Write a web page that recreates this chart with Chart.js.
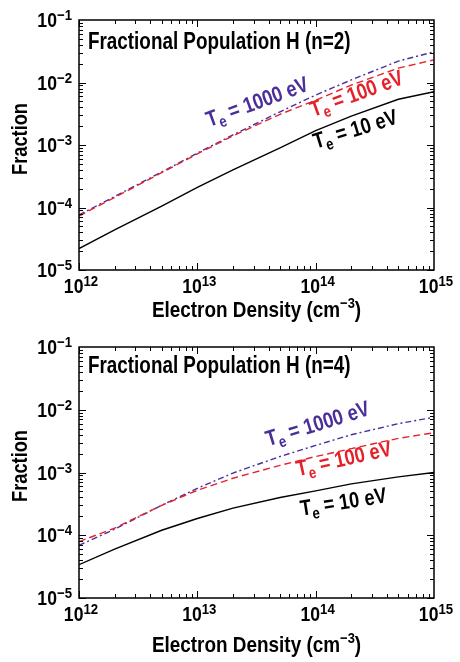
<!DOCTYPE html>
<html>
<head>
<meta charset="utf-8">
<script src="https://cdn.jsdelivr.net/npm/chart.js@4/dist/chart.umd.min.js"></script>
<style>
  html, body { margin: 0; padding: 0; background: #fff; }
  .panel { position: relative; width: 460px; height: 331px; }
  canvas { display: block; }
</style>
</head>
<body>
<div class="panel"><canvas id="popN2" width="460" height="331"></canvas></div>
<div class="panel"><canvas id="popN4" width="460" height="331"></canvas></div>
<script>
// electron density (cm^-3)
const density = [1e12, 2e12, 5e12, 1e13, 2e13, 5e13, 1e14, 2e14, 5e14, 1e15];

// fractional population, n=2
const n2Te10   = [2.2e-5, 4.4e-5, 1.05e-4, 2.1e-4, 4.0e-4, 9.0e-4, 1.7e-3, 2.9e-3, 5.4e-3, 7.1e-3];
const n2Te100  = [7.3e-5, 1.45e-4, 3.6e-4, 7.2e-4, 1.4e-3, 3.1e-3, 5.2e-3, 9.1e-3, 1.7e-2, 2.3e-2];
const n2Te1000 = [7.6e-5, 1.5e-4, 3.7e-4, 7.4e-4, 1.45e-3, 3.4e-3, 6.3e-3, 1.1e-2, 2.2e-2, 3.1e-2];

// fractional population, n=4
const n4Te10   = [3.4e-5, 6.0e-5, 1.2e-4, 1.85e-4, 2.7e-4, 4.0e-4, 5.1e-4, 6.6e-4, 8.5e-4, 1.0e-3];
const n4Te100  = [7.9e-5, 1.3e-4, 3.0e-4, 5.2e-4, 8.1e-4, 1.3e-3, 1.8e-3, 2.4e-3, 3.5e-3, 4.3e-3];
const n4Te1000 = [6.9e-5, 1.25e-4, 3.0e-4, 5.6e-4, 9.8e-4, 1.8e-3, 2.7e-3, 4.0e-3, 6.0e-3, 7.6e-3];

// tick labels (powers of ten)
const xTickExps = [12, 13, 14, 15];
const yTickExps = [-5, -4, -3, -2, -1];

const FONT = '"Liberation Sans", Arial, sans-serif';
const SX = 0.84;  // squeeze text horizontally, the original uses a narrow face
const BLACK = '#000000';
const RED = '#e5222b';
const PURPLE = '#4a2f9b';

function richWidth(ctx, parts, size) {
  let w = 0;
  for (const p of parts) {
    ctx.font = `bold ${p.size || size}px ${FONT}`;
    w += ctx.measureText(p.t).width;
  }
  return w;
}

// draw text made of runs (for super/subscripts), optionally rotated
function drawRich(ctx, parts, x, y, o) {
  ctx.save();
  ctx.translate(x, y);
  ctx.rotate((o.angle || 0) * Math.PI / 180);
  ctx.scale(o.sx || SX, 1);
  ctx.fillStyle = o.color || BLACK;
  ctx.textBaseline = 'alphabetic';
  ctx.textAlign = 'left';
  const w = richWidth(ctx, parts, o.size);
  let cx = o.align === 'center' ? -w / 2 : o.align === 'right' ? -w : 0;
  for (const p of parts) {
    ctx.font = `bold ${p.size || o.size}px ${FONT}`;
    ctx.fillText(p.t, cx, p.dy || 0);
    cx += ctx.measureText(p.t).width;
  }
  ctx.restore();
}

const pow10 = e => [{ t: '10' }, { t: (e < 0 ? '\u2212' + (-e) : String(e)), size: 15, dy: -7 }];
const teLabel = v => [{ t: 'T' }, { t: 'e', size: 16, dy: 5 }, { t: ' = ' + v + ' eV' }];

// frame, inward ticks, tick labels, titles and curve labels
const decor = {
  id: 'decor',
  afterDraw(chart, args, opts) {
    const { ctx, chartArea: a, scales: { x, y } } = chart;
    ctx.save();
    ctx.strokeStyle = BLACK;
    ctx.lineWidth = 1.5;
    ctx.strokeRect(a.left, a.top, a.right - a.left, a.bottom - a.top);

    ctx.lineWidth = 1;
    ctx.beginPath();
    for (let e = xTickExps[0]; e < xTickExps[xTickExps.length - 1]; e++) {
      for (let m = 1; m < 10; m++) {
        const px = Math.round(x.getPixelForValue(m * Math.pow(10, e))) + 0.5;
        const len = m === 1 ? 7 : 4;
        ctx.moveTo(px, a.bottom); ctx.lineTo(px, a.bottom - len);
        ctx.moveTo(px, a.top); ctx.lineTo(px, a.top + len);
      }
    }
    for (let e = yTickExps[0]; e < yTickExps[yTickExps.length - 1]; e++) {
      for (let m = 1; m < 10; m++) {
        const py = Math.round(y.getPixelForValue(m * Math.pow(10, e))) + 0.5;
        const len = m === 1 ? 7 : 4;
        ctx.moveTo(a.left, py); ctx.lineTo(a.left + len, py);
        ctx.moveTo(a.right, py); ctx.lineTo(a.right - len, py);
      }
    }
    ctx.stroke();
    ctx.restore();

    for (const e of xTickExps) {
      drawRich(ctx, pow10(e), x.getPixelForValue(Math.pow(10, e)) + 2, a.bottom + 23, { size: 20, sx: 0.88, align: 'center' });
    }
    for (const e of yTickExps) {
      drawRich(ctx, pow10(e), a.left - 7, y.getPixelForValue(Math.pow(10, e)) + 7, { size: 20, sx: 0.88, align: 'right' });
    }

    drawRich(ctx, [{ t: 'Electron Density (cm' }, { t: '\u22123', size: 15, dy: -9 }, { t: ')' }],
      (a.left + a.right) / 2, opts.xTitleY, { size: 22, sx: 0.86, align: 'center' });
    drawRich(ctx, [{ t: 'Fraction' }], 27, opts.yTitleY, { size: 22, sx: 0.83, align: 'center', angle: -90 });

    drawRich(ctx, [{ t: opts.title }], a.left + 9, a.top + opts.titleDy, { size: 23, sx: 0.82 });

    for (const lb of opts.labels) {
      drawRich(ctx, teLabel(lb.text), x.getPixelForValue(lb.at[0]), y.getPixelForValue(lb.at[1]),
        { size: 22, sx: 0.83, color: lb.color, angle: lb.angle });
    }
  }
};

function series(values, color, dash) {
  return {
    data: density.map((d, i) => ({ x: d, y: values[i] })),
    borderColor: color,
    borderWidth: 1.4,
    borderDash: dash,
    pointRadius: 0,
    tension: 0,
    fill: false
  };
}

function makeChart(id, sets, pad, xAxisH, decorOpts) {
  return new Chart(document.getElementById(id), {
    type: 'line',
    data: { datasets: sets },
    options: {
      responsive: false,
      animation: false,
      layout: { padding: { left: 0, right: 26, top: pad, bottom: 0 } },
      plugins: { legend: { display: false }, tooltip: { enabled: false }, decor: decorOpts },
      scales: {
        x: {
          type: 'logarithmic', min: 1e12, max: 1e15,
          ticks: { display: false }, grid: { display: false }, border: { display: false },
          afterFit: s => { s.height = xAxisH; }
        },
        y: {
          type: 'logarithmic', min: 1e-5, max: 1e-1,
          ticks: { display: false }, grid: { display: false }, border: { display: false },
          afterFit: s => { s.width = 79; }
        }
      }
    },
    plugins: [decor]
  });
}

makeChart('popN2', [
  series(n2Te10, BLACK, []),
  series(n2Te100, RED, [7, 4]),
  series(n2Te1000, PURPLE, [6, 3, 2, 3])
], 20, 61, {
  title: 'Fractional Population H (n=2)', titleDy: 29, xTitleY: 317, yTitleY: 139,
  labels: [
    { text: '1000', color: PURPLE, angle: -20, at: [Math.pow(10, 13.10), Math.pow(10, -2.71)] },
    { text: '100', color: RED, angle: -20, at: [Math.pow(10, 13.98), Math.pow(10, -2.55)] },
    { text: '10', color: BLACK, angle: -17, at: [Math.pow(10, 14.00), Math.pow(10, -3.06)] }
  ]
});

makeChart('popN4', [
  series(n4Te10, BLACK, []),
  series(n4Te100, RED, [7, 4]),
  series(n4Te1000, PURPLE, [6, 3, 2, 3])
], 16, 64, {
  title: 'Fractional Population H (n=4)', titleDy: 26, xTitleY: 321, yTitleY: 135,
  labels: [
    { text: '1000', color: PURPLE, angle: -17, at: [Math.pow(10, 13.60), Math.pow(10, -2.58)] },
    { text: '100', color: RED, angle: -12.5, at: [Math.pow(10, 13.85), Math.pow(10, -3.06)] },
    { text: '10', color: BLACK, angle: -9, at: [Math.pow(10, 13.88), Math.pow(10, -3.69)] }
  ]
});
</script>
</body>
</html>
